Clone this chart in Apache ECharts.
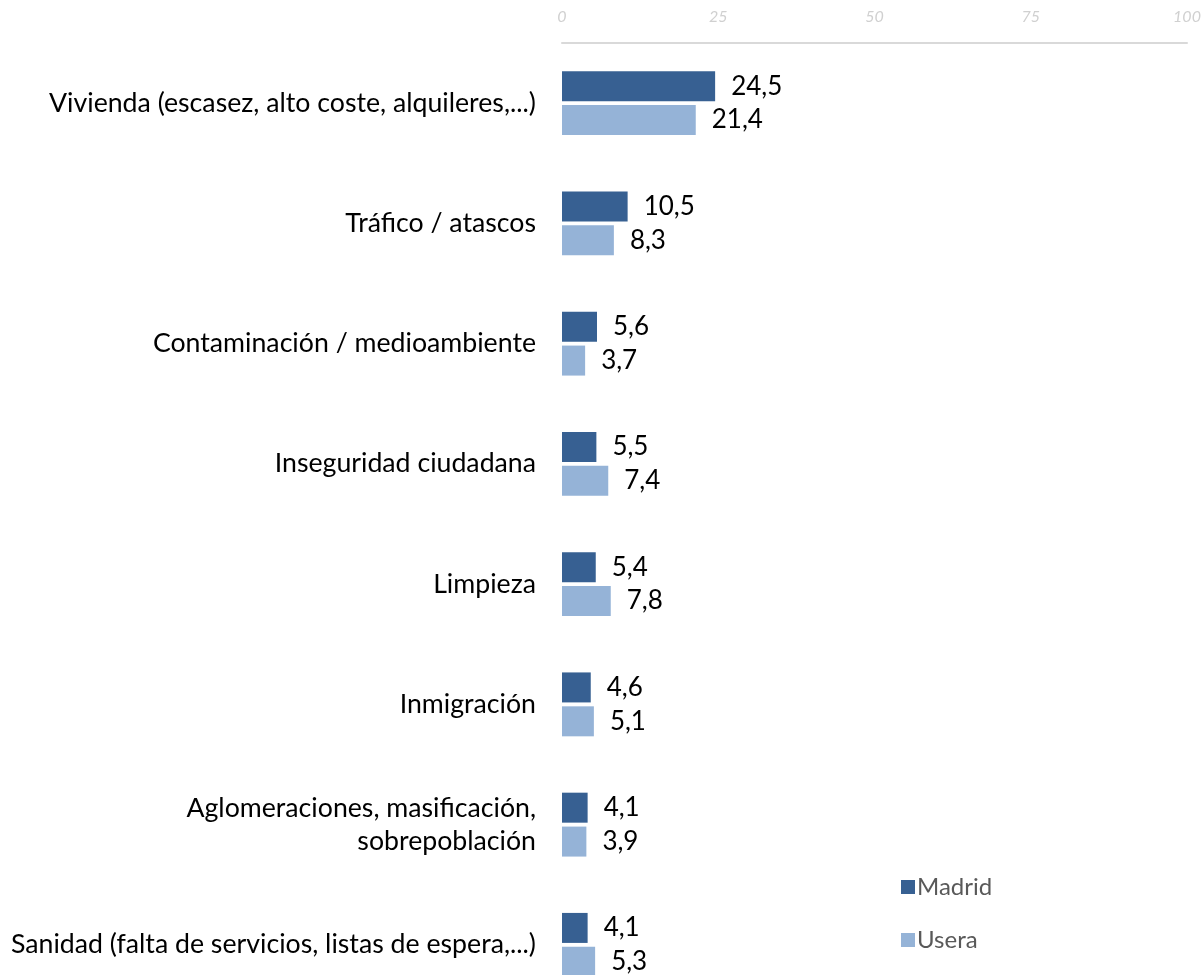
<!DOCTYPE html>
<html><head><meta charset="utf-8">
<script src="https://cdn.jsdelivr.net/npm/echarts@6/dist/echarts.min.js"></script>
<style>html,body{margin:0;padding:0;background:#fff}#c{width:1201px;height:975px}</style>
</head><body><div id="c"></div>
<script>
const categories = [
  "Vivienda (escasez, alto coste, alquileres,...)",
  "Tráfico / atascos",
  "Contaminación / medioambiente",
  "Inseguridad ciudadana",
  "Limpieza",
  "Inmigración",
  "Aglomeraciones, masificación,\nsobrepoblación",
  "Sanidad (falta de servicios, listas de espera,...)"
];
const madrid = [24.5, 10.5, 5.6, 5.5, 5.4, 4.6, 4.1, 4.1];
const usera = [21.4, 8.3, 3.7, 7.4, 7.8, 5.1, 3.9, 5.3];
const xTicks = [0, 25, 50, 75, 100];

const chart = echarts.init(document.getElementById('c'), null, {renderer: 'canvas'});
const fmt = p => String(p.value).replace('.', ',');
const labelStyle = {show: true, position: 'right', distance: 16, color: '#000', fontSize: 26, fontFamily: 'Lato', formatter: fmt};
chart.setOption({
  animation: false,
  backgroundColor: '#fff',
  textStyle: {fontFamily: 'Lato'},
  grid: {left: 562, right: 14, top: 43, height: 962, containLabel: false, outerBoundsMode: 'none'},
  legend: {
    orient: 'vertical', left: 896, top: 870, itemGap: 29,
    itemWidth: 14, itemHeight: 14, icon: 'rect',
    textStyle: {fontSize: 24, color: '#595959', fontFamily: 'Lato', padding: [0,0,0,-3]},
    data: ['Madrid', 'Usera']
  },
  xAxis: {
    type: 'value', position: 'top', min: xTicks[0], max: xTicks[xTicks.length-1], interval: 25,
    axisLine: {show: true, lineStyle: {color: '#d9d9d9', width: 2}},
    axisTick: {show: false},
    splitLine: {show: false},
    axisLabel: {margin: 18, color: '#d0d0d0', fontSize: 16, fontStyle: 'italic', fontFamily: 'Lato'}
  },
  yAxis: {
    type: 'category', inverse: true, data: categories,
    axisLine: {show: false}, axisTick: {show: false},
    axisLabel: {margin: 26, color: '#000', fontSize: 26.7, fontFamily: 'Lato', lineHeight: 33, align: 'right'}
  },
  series: [
    {name: 'Madrid', type: 'bar', data: madrid, barWidth: 30, barGap: '13%', itemStyle: {color: '#376092'}, label: labelStyle},
    {name: 'Usera', type: 'bar', data: usera, barWidth: 30, itemStyle: {color: '#95b3d7'}, label: labelStyle}
  ]
});
</script></body></html>
